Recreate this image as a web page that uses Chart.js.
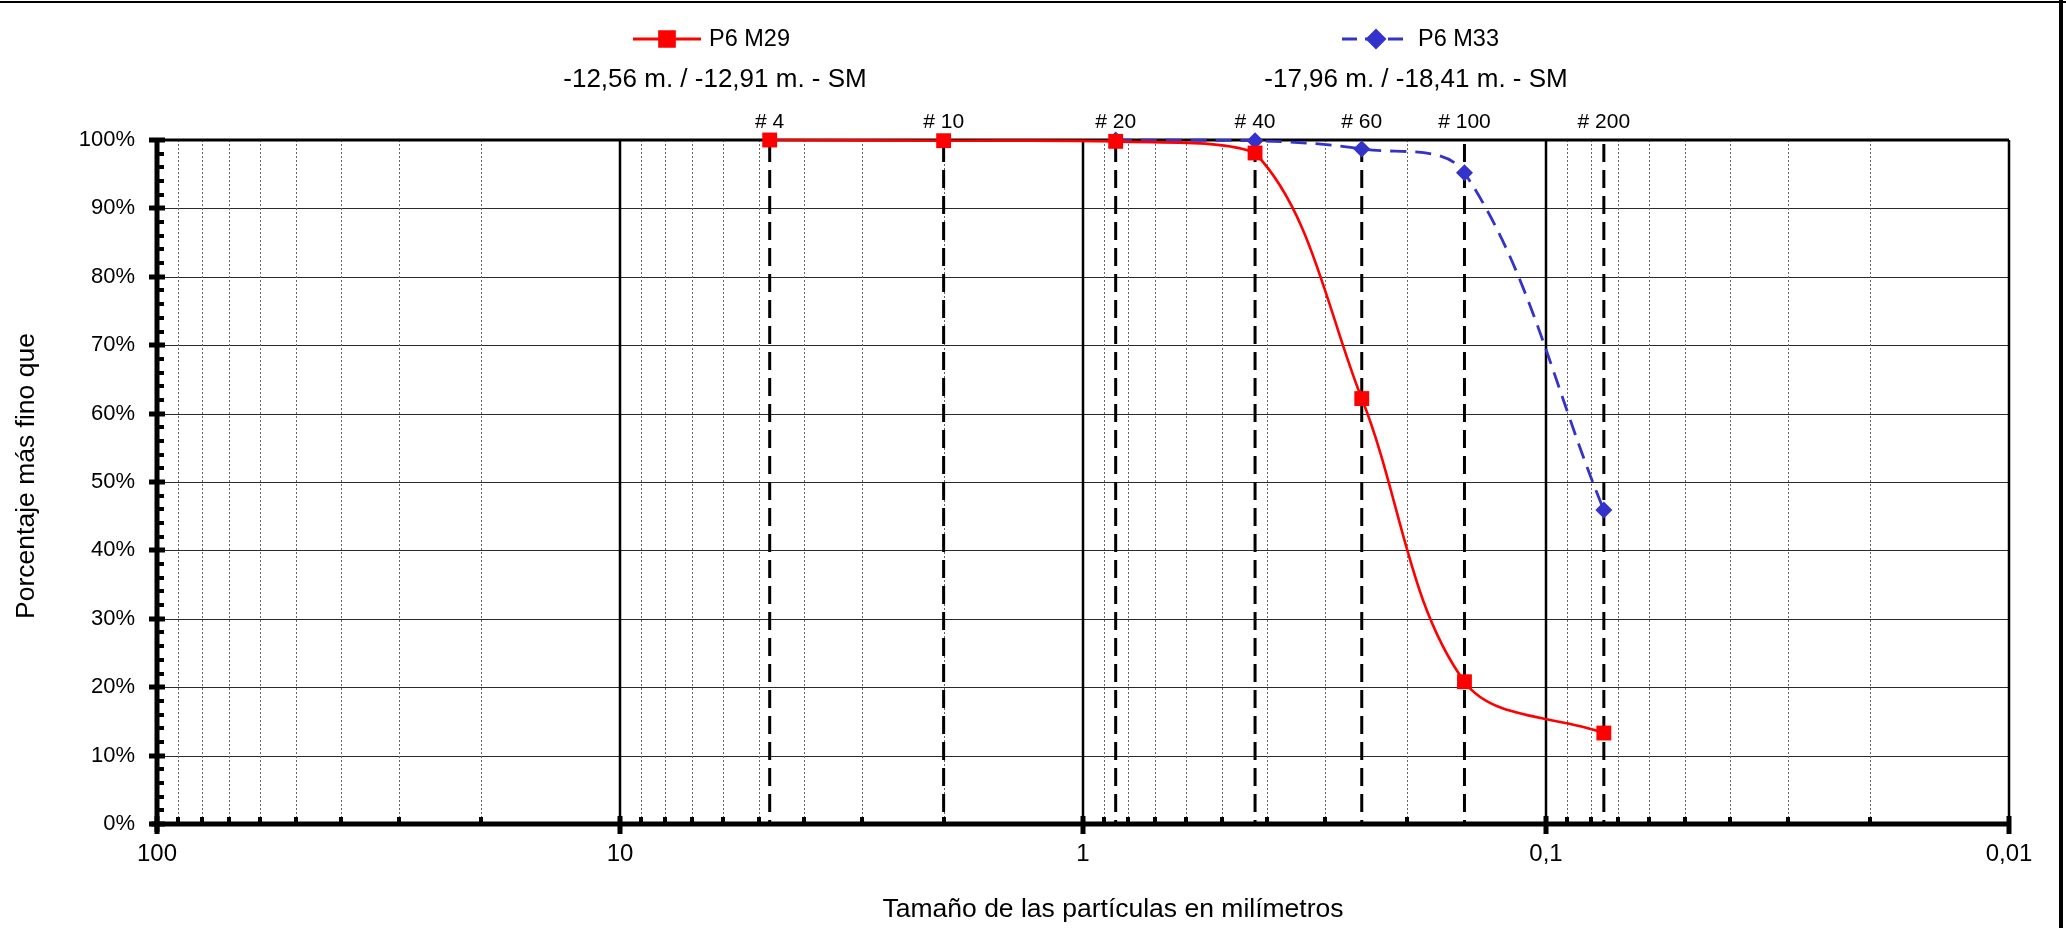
<!DOCTYPE html>
<html>
<head>
<meta charset="utf-8">
<title>Curva granulométrica P6</title>
<script src="https://cdn.jsdelivr.net/npm/chart.js@4.4.1/dist/chart.umd.min.js"></script>
<style>
  html, body { margin: 0; padding: 0; background: #fff; overflow: hidden; }
  #wrap { position: relative; width: 2066px; height: 928px; }
</style>
</head>
<body>
<div id="wrap"><canvas id="c" width="2066" height="928"></canvas></div>
<script>
// ASTM sieves marked on the chart (opening in mm)
const sieveNames = ['# 4', '# 10', '# 20', '# 40', '# 60', '# 100', '# 200'];
const sieveSizes = [4.75, 2.0, 0.85, 0.425, 0.25, 0.15, 0.075];

// Sample P6 M29 (-12,56 m. / -12,91 m.)
const m29Sizes   = [4.75, 2.0, 0.85, 0.425, 0.25, 0.15, 0.075];
const m29Passing = [100, 99.9, 99.8, 98.1, 62.2, 20.8, 13.3];

// Sample P6 M33 (-17,96 m. / -18,41 m.)
const m33Sizes   = [0.85, 0.425, 0.25, 0.15, 0.075];
const m33Passing = [100, 99.9, 98.7, 95.2, 45.9];

const seriesNames  = ['P6 M29', 'P6 M33'];
const seriesDepths = ['-12,56 m. / -12,91 m. - SM', '-17,96 m. / -18,41 m. - SM'];

const xTickValues = [100, 10, 1, 0.1, 0.01];
const xTickLabels = ['100', '10', '1', '0,1', '0,01'];
const yTickValues = [0, 10, 20, 30, 40, 50, 60, 70, 80, 90, 100];
const yTickLabels = ['0%', '10%', '20%', '30%', '40%', '50%', '60%', '70%', '80%', '90%', '100%'];

const xTitle = 'Tamaño de las partículas en milímetros';
const yTitle = 'Porcentaje más fino que';

const FONT = "'Liberation Sans', Arial, Helvetica, sans-serif";
const RED = '#FF0000';
const BLUE = '#3333CC';

function seg(ctx, x1, y1, x2, y2) {
  ctx.beginPath(); ctx.moveTo(x1, y1); ctx.lineTo(x2, y2); ctx.stroke();
}

// grid, sieve lines and axis frame drawn from the chart's own scales
const gradationGrid = {
  id: 'gradationGrid',
  beforeDatasetsDraw(chart) {
    const { ctx, chartArea: a, scales: { x, y } } = chart;
    ctx.save();

    // horizontal lines every 10 %
    ctx.strokeStyle = '#2a2a2a';
    ctx.lineWidth = 1.2;
    yTickValues.forEach(v => {
      if (v === 0 || v === 100) return;
      const py = Math.round(y.getPixelForValue(v)) + 0.5;
      seg(ctx, a.left, py, a.right, py);
    });

    // minor verticals (2..9 of each decade), dotted
    const minors = [];
    [0.01, 0.1, 1, 10].forEach(d => { for (let k = 2; k <= 9; k++) minors.push(k * d); });
    ctx.strokeStyle = '#666';
    ctx.lineWidth = 1;
    ctx.setLineDash([2, 2]);
    minors.forEach(v => {
      const px = Math.round(x.getPixelForValue(v)) + 0.5;
      seg(ctx, px, a.top, px, a.bottom);
    });
    ctx.setLineDash([]);

    // decade lines
    ctx.strokeStyle = '#000';
    ctx.lineWidth = 2.5;
    [10, 1, 0.1].forEach(v => {
      const px = x.getPixelForValue(v);
      seg(ctx, px, a.top, px, a.bottom);
    });

    // sieve lines, dashed
    ctx.lineWidth = 3;
    ctx.setLineDash([18, 8]);
    sieveSizes.forEach(v => {
      const px = x.getPixelForValue(v);
      seg(ctx, px, a.top + 4, px, a.bottom);
    });
    ctx.setLineDash([]);

    // frame: top, right, left axis, bottom axis
    ctx.lineWidth = 3;
    seg(ctx, a.left, a.top, a.right, a.top);
    ctx.lineWidth = 2.5;
    seg(ctx, a.right, a.top, a.right, a.bottom + 10);
    ctx.lineWidth = 5;
    seg(ctx, a.left, a.top, a.left, a.bottom + 8);
    seg(ctx, a.left - 6, a.bottom, a.right + 2, a.bottom);

    // small tick marks on the bottom axis
    ctx.fillStyle = '#000';
    minors.forEach(v => {
      const px = Math.round(x.getPixelForValue(v));
      ctx.fillRect(px - 2, a.bottom - 7, 4, 5);
    });
    xTickValues.forEach(v => {
      const px = Math.round(x.getPixelForValue(v));
      ctx.fillRect(px - 2.5, a.bottom - 8, 5, 18);
    });

    // tick marks on the left axis: majors every 10 %, minors every 2 %
    for (let v = 0; v <= 100; v += 2) {
      const py = Math.round(y.getPixelForValue(v));
      if (v % 10 === 0) ctx.fillRect(a.left - 8, py - 2.5, 16, 5);
      else ctx.fillRect(a.left, py - 2, 7, 4);
    }
    ctx.restore();
  },
  afterDraw(chart) {
    const { ctx, chartArea: a, scales: { x } } = chart;
    ctx.save();
    ctx.fillStyle = '#000';
    ctx.textBaseline = 'middle';

    // sieve labels
    ctx.font = '21px ' + FONT;
    ctx.textAlign = 'center';
    sieveSizes.forEach((v, i) => {
      ctx.fillText(sieveNames[i], x.getPixelForValue(v), a.top - 18);
    });

    // legend entries with depth captions
    const legend = [
      { lx1: 633, lx2: 701, tx: 709, cx: 715, color: RED, dash: [], style: 'rect', r: 10.5 },
      { lx1: 1342, lx2: 1410, tx: 1418, cx: 1416, color: BLUE, dash: [15, 8], style: 'rectRot', r: 8.5 }
    ];
    legend.forEach((L, i) => {
      const ly = 39;
      ctx.strokeStyle = L.color;
      ctx.fillStyle = L.color;
      ctx.lineWidth = 2.8;
      ctx.setLineDash(L.dash);
      seg(ctx, L.lx1, ly, L.lx2, ly);
      ctx.setLineDash([]);
      Chart.helpers.drawPoint(ctx, { pointStyle: L.style, radius: L.r, borderWidth: 1 }, (L.lx1 + L.lx2) / 2, ly);
      ctx.fill();
      ctx.fillStyle = '#000';
      ctx.font = '23.5px ' + FONT;
      ctx.textAlign = 'left';
      ctx.fillText(seriesNames[i], L.tx, ly + 1);
      ctx.font = '26px ' + FONT;
      ctx.textAlign = 'center';
      ctx.fillText(seriesDepths[i], L.cx, 80);
    });

    // axis titles
    ctx.font = '26.5px ' + FONT;
    ctx.textAlign = 'center';
    ctx.fillText(xTitle, 1113, 910);
    ctx.save();
    ctx.translate(27, 476);
    ctx.rotate(-Math.PI / 2);
    ctx.fillText(yTitle, 0, 0);
    ctx.restore();

    // outer frame
    ctx.strokeStyle = '#000';
    ctx.lineWidth = 2;
    seg(ctx, 0, 2, 2066, 2);
    ctx.lineWidth = 4;
    seg(ctx, 2061, 0, 2061, 928);
    ctx.restore();
  }
};

const toPoints = (xs, ys) => xs.map((s, i) => ({ x: s, y: ys[i] }));

new Chart(document.getElementById('c'), {
  type: 'scatter',
  data: {
    datasets: [
      {
        label: seriesNames[0],
        data: toPoints(m29Sizes, m29Passing),
        showLine: true,
        borderColor: RED,
        backgroundColor: RED,
        borderWidth: 2.6,
        pointStyle: 'rect',
        pointRadius: 10.5,
        pointHoverRadius: 10.5,
        pointBorderWidth: 0,
        tension: 0.35,
        clip: 20
      },
      {
        label: seriesNames[1],
        data: toPoints(m33Sizes, m33Passing),
        showLine: true,
        borderColor: BLUE,
        backgroundColor: BLUE,
        borderWidth: 2.8,
        borderDash: [16, 9],
        pointStyle: 'rectRot',
        pointRadius: 8.5,
        pointHoverRadius: 8.5,
        pointBorderWidth: 0,
        tension: 0.35,
        clip: 20
      }
    ]
  },
  options: {
    responsive: false,
    animation: false,
    events: [],
    layout: { padding: { top: 140, right: 57, left: 0, bottom: 0 } },
    plugins: { legend: { display: false }, tooltip: { enabled: false } },
    scales: {
      x: {
        type: 'logarithmic',
        reverse: true,
        min: 0.01,
        max: 100,
        afterBuildTicks: s => { s.ticks = xTickValues.map(v => ({ value: v })); },
        afterFit: s => { s.height = 104; },
        grid: { display: false, drawTicks: false },
        border: { display: false },
        ticks: {
          autoSkip: false,
          maxRotation: 0,
          padding: 16,
          color: '#000',
          font: { family: FONT, size: 24 },
          callback: v => xTickLabels[xTickValues.indexOf(v)]
        }
      },
      y: {
        min: 0,
        max: 100,
        afterBuildTicks: s => { s.ticks = yTickValues.map(v => ({ value: v })); },
        afterFit: s => { s.width = 157; },
        grid: { display: false, drawTicks: false },
        border: { display: false },
        ticks: {
          padding: 22,
          color: '#000',
          font: { family: FONT, size: 22 },
          callback: v => yTickLabels[yTickValues.indexOf(v)]
        }
      }
    }
  },
  plugins: [gradationGrid]
});
</script>
</body>
</html>
